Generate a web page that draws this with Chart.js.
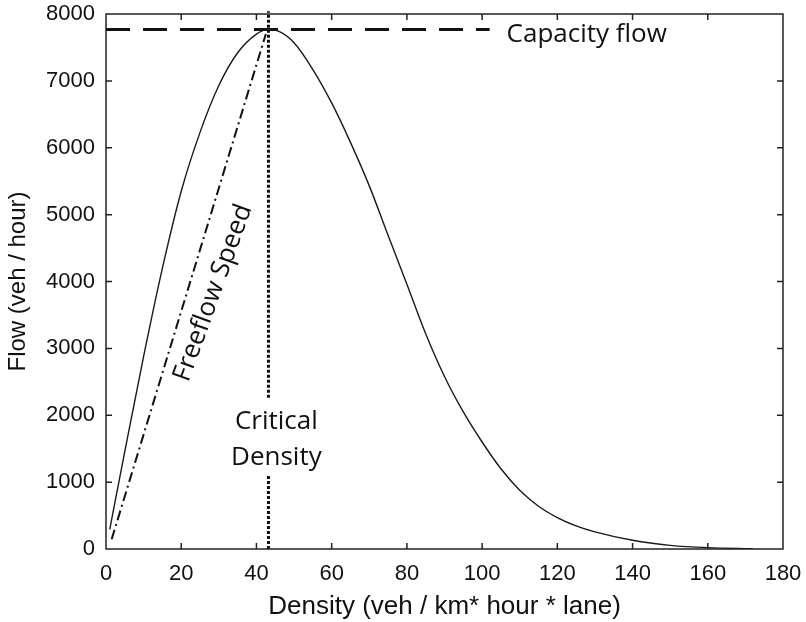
<!DOCTYPE html>
<html>
<head>
<meta charset="utf-8">
<script src="https://cdn.jsdelivr.net/npm/chart.js@4/dist/chart.umd.min.js"></script>
<style>
  html, body { margin: 0; padding: 0; background: #fff; }
  #wrap { width: 806px; height: 622px; }
</style>
</head>
<body>
<div id="wrap"><canvas id="fdChart"></canvas></div>
<script>
// data
const density = [1, 5, 10, 15, 20, 25, 30, 35, 40, 43.2, 46, 50, 55, 60, 65, 70, 75, 80, 85, 90, 95, 100, 105, 110, 115, 120, 125, 130, 140, 150, 160, 172];
const flow    = [295, 1460, 2880, 4200, 5350, 6230, 6930, 7420, 7700, 7770, 7740, 7570, 7170, 6670, 6080, 5430, 4690, 3960, 3220, 2580, 2050, 1600, 1200, 880, 640, 470, 345, 255, 130, 55, 20, 5];

const capacityFlow = 7770;
const capacityLineX = [0, 102];
const criticalDensity = 43.2;
const criticalLineY = [0, 1120, 2260, 8040];   // broken around the label
const freeflowX = [1.5, 42.5];
const freeflowY = [145, 7700];

const axisFont = "'Liberation Sans', Arial, sans-serif";
const noteFont = "'Open Sans', sans-serif";
const ink = '#111';

const pts = (xs, ys) => xs.map((x, i) => ({ x: x, y: ys[i] }));

// frame + inward ticks on all four sides (matlab look)
const boxTicks = {
    id: 'boxTicks',
    afterDatasetsDraw(chart) {
        const { ctx, chartArea: a, scales } = chart;
        const len = 6;
        ctx.save();
        ctx.strokeStyle = '#222';
        ctx.lineWidth = 1.5;
        ctx.strokeRect(a.left, a.top, a.right - a.left, a.bottom - a.top);
        ctx.beginPath();
        scales.x.ticks.forEach(t => {
            const px = scales.x.getPixelForValue(t.value);
            if (px <= a.left + 1 || px >= a.right - 1) return;
            ctx.moveTo(px, a.bottom); ctx.lineTo(px, a.bottom - len);
            ctx.moveTo(px, a.top); ctx.lineTo(px, a.top + len);
        });
        scales.y.ticks.forEach(t => {
            const py = scales.y.getPixelForValue(t.value);
            if (py <= a.top + 1 || py >= a.bottom - 1) return;
            ctx.moveTo(a.left, py); ctx.lineTo(a.left + len, py);
            ctx.moveTo(a.right, py); ctx.lineTo(a.right - len, py);
        });
        ctx.stroke();
        ctx.restore();
    }
};

// text notes placed in data units
const notes = {
    id: 'notes',
    afterDatasetsDraw(chart) {
        const { ctx, scales: { x, y } } = chart;
        ctx.save();
        ctx.fillStyle = ink;
        ctx.font = '26px ' + noteFont;

        ctx.textAlign = 'left';
        ctx.textBaseline = 'middle';
        ctx.fillText('Capacity flow', x.getPixelForValue(106.5), y.getPixelForValue(7690));

        ctx.textAlign = 'center';
        ctx.textBaseline = 'alphabetic';
        ctx.fillText('Critical', x.getPixelForValue(45.3), y.getPixelForValue(1794));
        ctx.fillText('Density', x.getPixelForValue(45.3), y.getPixelForValue(1256));

        ctx.translate(x.getPixelForValue(28.5), y.getPixelForValue(3830));
        ctx.rotate(-70 * Math.PI / 180);
        ctx.textBaseline = 'middle';
        ctx.fillText('Freeflow Speed', 0, 0);
        ctx.restore();
    }
};

new Chart(document.getElementById('fdChart').getContext('2d'), {
    type: 'line',
    data: {
        datasets: [
            {
                label: 'flow',
                data: pts(density, flow),
                borderColor: '#1a1a1a',
                borderWidth: 1.4,
                pointRadius: 0,
                cubicInterpolationMode: 'monotone'
            },
            {
                label: 'capacity',
                data: pts(capacityLineX, [capacityFlow, capacityFlow]),
                borderColor: ink,
                borderWidth: 3,
                borderDash: [24, 13],
                pointRadius: 0
            },
            {
                label: 'critical',
                data: [
                    { x: criticalDensity, y: criticalLineY[0] },
                    { x: criticalDensity, y: criticalLineY[1] },
                    { x: criticalDensity, y: null },
                    { x: criticalDensity, y: criticalLineY[2] },
                    { x: criticalDensity, y: criticalLineY[3] }
                ],
                borderColor: ink,
                borderWidth: 3,
                borderDash: [3, 2],
                pointRadius: 0,
                spanGaps: false,
                clip: false
            },
            {
                label: 'freeflow',
                data: pts(freeflowX, freeflowY),
                borderColor: ink,
                borderWidth: 2,
                borderDash: [10, 4, 2, 4],
                pointRadius: 0
            }
        ]
    },
    options: {
        responsive: true,
        maintainAspectRatio: false,
        animation: false,
        layout: { padding: { left: 0, top: 14, right: 23, bottom: 0 } },
        plugins: {
            legend: { display: false },
            tooltip: { enabled: false }
        },
        scales: {
            x: {
                type: 'linear',
                min: 0, max: 180,
                grid: { display: false },
                border: { display: false },
                ticks: {
                    stepSize: 20, padding: 4, color: ink,
                    font: { family: axisFont, size: 22 },
                    callback: v => String(v)
                },
                title: {
                    display: true,
                    text: 'Density (veh / km* hour * lane)',
                    color: ink,
                    font: { family: axisFont, size: 26 },
                    padding: { top: 1, bottom: 0 }
                },
                afterFit: scale => {
                    scale.height = 73;
                    scale.paddingLeft = 0;
                    scale.paddingRight = 0;
                }
            },
            y: {
                type: 'linear',
                min: 0, max: 8000,
                grid: { display: false },
                border: { display: false },
                ticks: {
                    stepSize: 1000, padding: 3, color: ink,
                    font: { family: axisFont, size: 22 },
                    callback: v => String(v)
                },
                title: {
                    display: true,
                    text: 'Flow (veh / hour)',
                    color: ink,
                    font: { family: axisFont, size: 24 },
                    padding: { top: 4, bottom: 0 }
                },
                afterFit: scale => {
                    scale.width = 106;
                    scale.paddingTop = 0;
                    scale.paddingBottom = 0;
                }
            }
        }
    },
    plugins: [boxTicks, notes]
});
</script>
</body>
</html>
